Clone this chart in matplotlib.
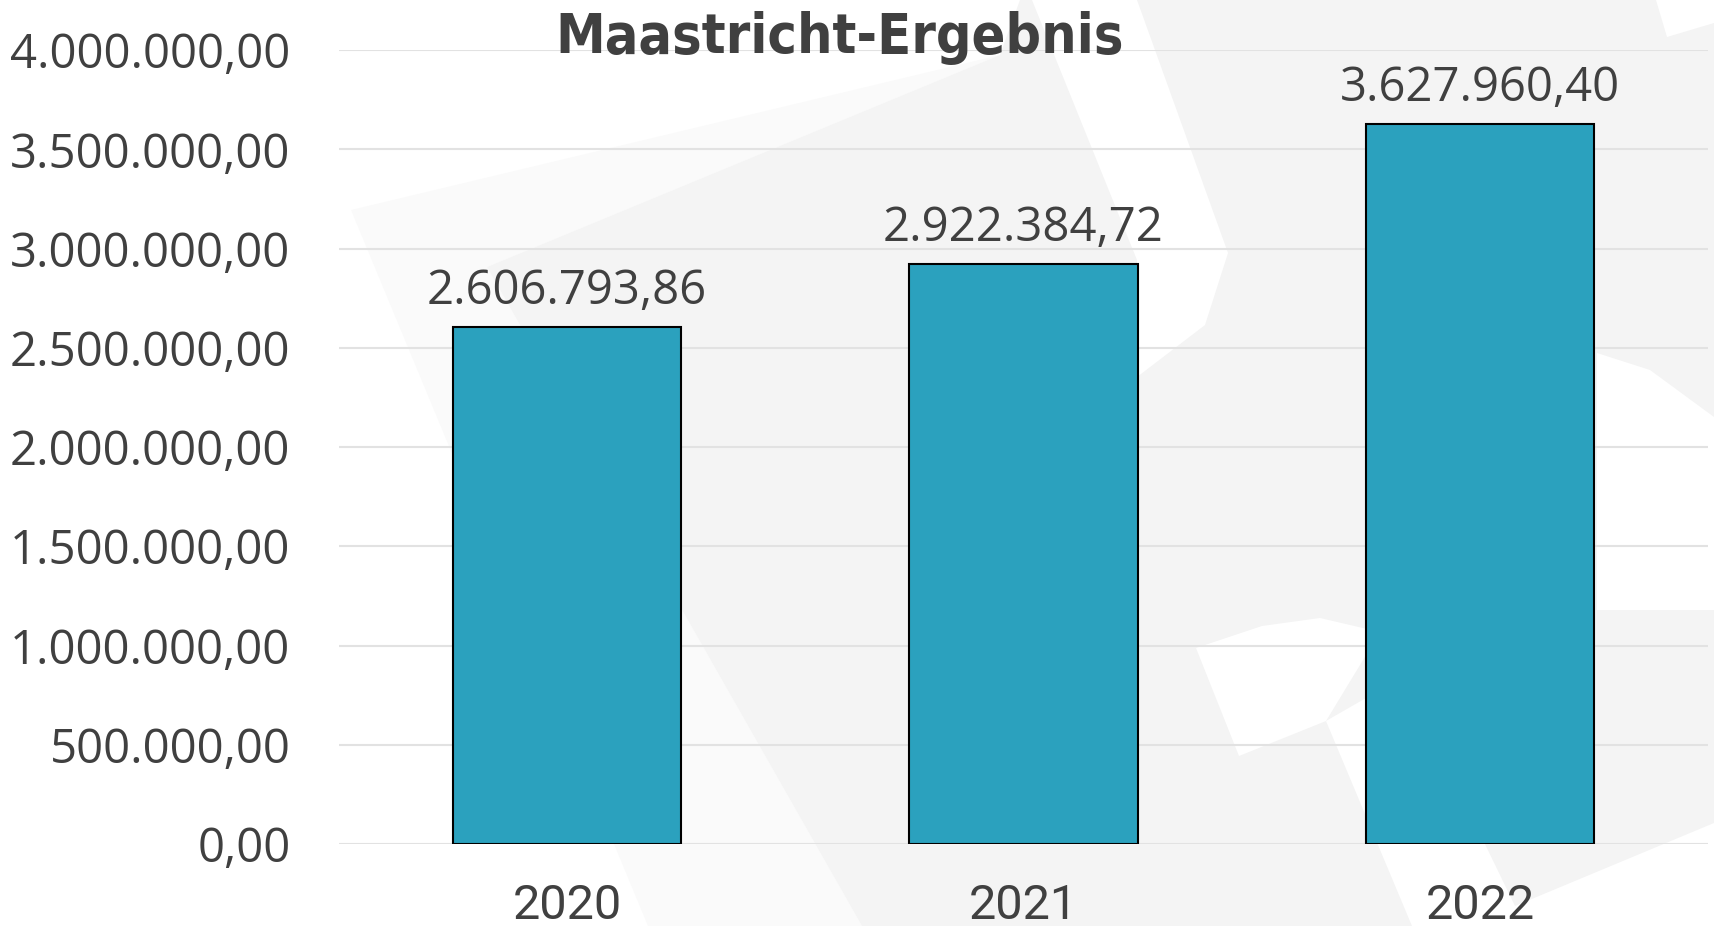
import matplotlib.pyplot as plt
from matplotlib.patches import Polygon

# data
years = ['2020', '2021', '2022']
values = [2606793.86, 2922384.72, 3627960.40]
y_ticks = [0, 500000, 1000000, 1500000, 2000000, 2500000, 3000000, 3500000, 4000000]
title = 'Maastricht-Ergebnis'

TEXT = '#404040'
BAR = '#2ba1be'


def de_num(v):
    # 1234567.8 -> 1.234.567,80
    s = f'{v:,.2f}'
    return s.replace(',', '#').replace('.', ',').replace('#', '.')


fig = plt.figure(figsize=(17.14, 9.26), dpi=100)

# faint watermark in the background (pixel coordinates, y downwards)
bg = fig.add_axes([0, 0, 1, 1], zorder=0)
bg.set_xlim(0, 1714)
bg.set_ylim(926, 0)
bg.axis('off')
faint = [(351, 210), (1000, 55), (487, 267), (862, 926), (648, 926)]
gray = [(487, 267), (1000, 55), (1020, 0), (1714, 0), (1714, 926), (862, 926)]
white_parts = [
    [(1032, 0), (1137, 0), (1228, 253), (1205, 325), (1137, 377), (1137, 260), (1055, 57)],
    [(1656, 0), (1667, 37), (1714, 23), (1714, 0)],
    [(1196, 648), (1262, 626), (1320, 618), (1380, 632), (1326, 721), (1239, 756)],
    [(1326, 721), (1380, 690), (1483, 840), (1515, 906), (1714, 823), (1714, 926), (1412, 926)],
    [(1597, 353), (1650, 370), (1714, 417), (1714, 610), (1597, 610)],
]
bg.add_patch(Polygon(faint, closed=True, facecolor='#fafafa', edgecolor='none'))
bg.add_patch(Polygon(gray, closed=True, facecolor='#f4f4f4', edgecolor='none'))
for pts in white_parts:
    bg.add_patch(Polygon(pts, closed=True, facecolor='white', edgecolor='none'))

ax = fig.add_axes([339 / 1714, 82 / 926, (1708 - 339) / 1714, 794 / 926], zorder=1)
ax.patch.set_alpha(0)

x = list(range(len(years)))
bars = ax.bar(x, values, width=0.5, color=BAR, edgecolor='black', linewidth=1.5, zorder=3)

ax.set_xlim(-0.5, 2.5)
ax.set_ylim(0, 4000000)
ax.set_yticks(y_ticks)
ax.set_yticklabels([de_num(v) for v in y_ticks], family='Open Sans', fontsize=34, color=TEXT)
ax.set_xticks(x)
ax.set_xticklabels(years, family='Roboto', fontsize=35, color=TEXT)
ax.tick_params(axis='y', length=0, pad=35)
ax.tick_params(axis='x', length=0, pad=28)
ax.yaxis.grid(True, color='#e2e2e2', linewidth=1.5)
ax.set_axisbelow(True)
for s in ax.spines.values():
    s.set_visible(False)

for xi, v in zip(x, values):
    ax.annotate(de_num(v), (xi, v), xytext=(0, 16.5), textcoords='offset points',
                ha='center', va='baseline', family='Open Sans', fontsize=34, color=TEXT)

fig.text(840 / 1714, 1 - 53 / 926, title, ha='center', va='baseline',
         family='DejaVu Sans', fontstretch='condensed', fontweight='bold',
         fontsize=40, color=TEXT)

fig.savefig('out.png', dpi=100)
